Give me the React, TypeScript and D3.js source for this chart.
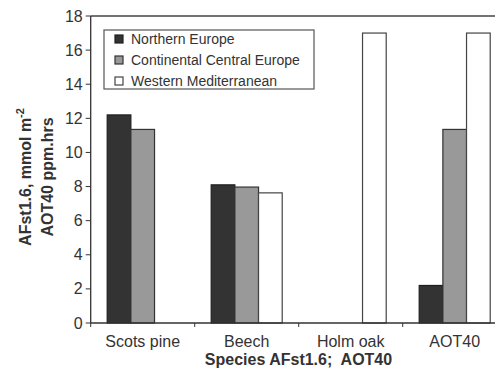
import React from "react";
import * as d3 from "d3";

const categories = ["Scots pine", "Beech", "Holm oak", "AOT40"];
const seriesNames = ["Northern Europe", "Continental Central Europe", "Western Mediterranean"];
const northern = [12.2, 8.1, 0, 2.2];
const continental = [11.35, 7.97, 0, 11.35];
const western = [0, 7.63, 17, 17];
const yTicks = [0, 2, 4, 6, 8, 10, 12, 14, 16, 18];

const fills = ["#333333", "#999999", "#ffffff"];
const strokes = ["#1e1e1e", "#333333", "#444444"];

export default function App() {
  const W = 495, H = 374;
  const left = 90.7, top = 16, bottom = 323, right = 506.7;
  const font = "Liberation Sans, Arial, sans-serif";
  const x = d3.scaleBand<string>().domain(categories).range([left, right]).paddingInner(0).paddingOuter(0);
  const y = d3.scaleLinear().domain([0, 18]).range([bottom, top]);
  const bw = x.bandwidth();
  const sub = d3.scaleBand<string>().domain(seriesNames).range([16.5, bw - 16.5]).padding(0);
  const series = [northern, continental, western];
  return (
    <svg width={W} height={H} style={{ position: "absolute", left: 0, top: 0, background: "#fff" }}>
      <rect x={0} y={0} width={W} height={H} fill="#fff" />
      <line x1={left} x2={W} y1={top} y2={top} stroke="#444" strokeWidth={1.3} />
      {series.map((vals, si) =>
        vals.map((v, ci) =>
          v > 0 ? (
            <rect
              key={`${si}-${ci}`}
              x={(x(categories[ci]) as number) + (sub(seriesNames[si]) as number)}
              y={y(v)}
              width={sub.bandwidth()}
              height={y(0) - y(v)}
              fill={fills[si]}
              stroke={strokes[si]}
              strokeWidth={1.2}
            />
          ) : null
        )
      )}
      <line x1={left} x2={left} y1={top} y2={bottom} stroke="#333" strokeWidth={1.3} />
      {yTicks.map((t) => (
        <g key={t}>
          <line x1={left - 5} x2={left} y1={y(t)} y2={y(t)} stroke="#333" strokeWidth={1} />
          <text x={left - 8} y={y(t)} dy="0.35em" textAnchor="end" fontFamily={font} fontSize={16} fill="#333">
            {t}
          </text>
        </g>
      ))}
      <line x1={left} x2={W} y1={bottom} y2={bottom} stroke="#333" strokeWidth={1.3} />
      {categories.map((c) => (
        <g key={c}>
          <line x1={x(c) as number} x2={x(c) as number} y1={bottom} y2={bottom + 4} stroke="#333" strokeWidth={1} />
          <text x={(x(c) as number) + bw / 2} y={346.5} textAnchor="middle" fontFamily={font} fontSize={16} fill="#333">
            {c}
          </text>
        </g>
      ))}
      <text x={298.5} y={365} textAnchor="middle" fontFamily={font} fontSize={16} fontWeight="bold" fill="#333" xmlSpace="preserve" style={{ whiteSpace: "pre" }}>
        {"Species AFst1.6;  AOT40"}
      </text>
      <g transform="translate(31,177) rotate(-90)">
        <text x={0} y={0} textAnchor="middle" fontFamily={font} fontSize={16} fontWeight="bold" fill="#333">
          AFst1.6, mmol m<tspan dy={-7} fontSize={11}>-2</tspan>
        </text>
        <text x={0} y={22} textAnchor="middle" fontFamily={font} fontSize={16} fontWeight="bold" fill="#333">
          AOT40 ppm.hrs
        </text>
      </g>
      <rect x={104} y={30} width={210} height={59} fill="#fff" stroke="#555" strokeWidth={1.2} />
      {seriesNames.map((s, i) => (
        <g key={s}>
          <rect x={115} y={35 + i * 21} width={8} height={8} fill={fills[i]} stroke={strokes[i]} strokeWidth={1.2} />
          <text x={131} y={39 + i * 21} dy="0.35em" fontFamily={font} fontSize={14} fill="#333">
            {s}
          </text>
        </g>
      ))}
    </svg>
  );
}
